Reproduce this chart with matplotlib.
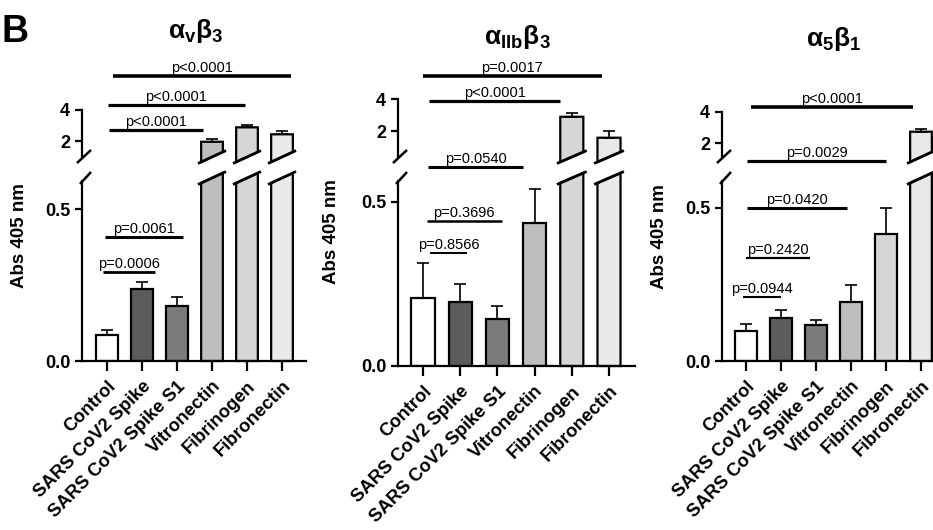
import numpy as np
import matplotlib.pyplot as plt
from matplotlib.patches import Polygon
from matplotlib.lines import Line2D

plt.rcParams['font.family'] = ['Liberation Sans', 'DejaVu Sans']
plt.rcParams['mathtext.fontset'] = 'custom'
plt.rcParams['mathtext.bf'] = 'Liberation Sans:bold'
plt.rcParams['mathtext.rm'] = 'Liberation Sans'
plt.rcParams['mathtext.it'] = 'Liberation Sans:italic'

categories = ['Control', 'SARS CoV2 Spike', 'SARS CoV2 Spike S1',
              'Vitronectin', 'Fibrinogen', 'Fibronectin']
bar_colors = ['white', '#5c5c5c', '#7b7b7b', '#bebebe', '#d6d6d6', '#e9e9e9']

titles = [r'$\mathbf{\alpha_v\beta_3}$', r'$\mathbf{\alpha_{IIb}\beta_3}$',
          r'$\mathbf{\alpha_5\beta_1}$']

avb3_mean = [0.085, 0.236, 0.180, 1.95, 2.88, 2.43]
avb3_sem = [0.017, 0.024, 0.030, 0.18, 0.13, 0.22]
aiibb3_mean = [0.207, 0.195, 0.143, 0.436, 2.89, 1.58]
aiibb3_sem = [0.107, 0.055, 0.040, 0.104, 0.25, 0.40]
a5b1_mean = [0.098, 0.141, 0.118, 0.193, 0.415, 2.73]
a5b1_sem = [0.023, 0.026, 0.016, 0.055, 0.085, 0.15]

# p-value lines: label, x from / to (category units), height, on upper segment?
avb3_sig_labels = ['p=0.0006', 'p=0.0061', 'p<0.0001', 'p<0.0001', 'p<0.0001']
avb3_sig_x0 = [-0.11, -0.06, 0.06, 0.03, 0.17]
avb3_sig_x1 = [1.37, 2.17, 2.74, 3.94, 5.26]
avb3_sig_y = [0.293, 0.408, 2.71, 4.32, 6.19]
avb3_sig_upper = [False, False, True, True, True]

aiibb3_sig_labels = ['p=0.8566', 'p=0.3696', 'p=0.0540', 'p<0.0001', 'p=0.0017']
aiibb3_sig_x0 = [0.19, 0.10, 0.14, 0.17, 0.0]
aiibb3_sig_x1 = [1.18, 2.12, 2.70, 3.68, 4.80]
aiibb3_sig_y = [0.345, 0.442, 0.607, 3.875, 5.44]
aiibb3_sig_upper = [False, False, False, True, True]

a5b1_sig_labels = ['p=0.0944', 'p=0.2420', 'p=0.0420', 'p=0.0029', 'p<0.0001']
a5b1_sig_x0 = [-0.09, 0.0, 0.03, 0.03, 0.14]
a5b1_sig_x1 = [1.00, 1.83, 2.89, 4.00, 4.77]
a5b1_sig_y = [0.209, 0.337, 0.50, 0.84, 4.32]
a5b1_sig_upper = [False, False, False, True, True]

panels = [
    (avb3_mean, avb3_sem, avb3_sig_labels, avb3_sig_x0, avb3_sig_x1, avb3_sig_y, avb3_sig_upper),
    (aiibb3_mean, aiibb3_sem, aiibb3_sig_labels, aiibb3_sig_x0, aiibb3_sig_x1, aiibb3_sig_y, aiibb3_sig_upper),
    (a5b1_mean, a5b1_sem, a5b1_sig_labels, a5b1_sig_x0, a5b1_sig_x1, a5b1_sig_y, a5b1_sig_upper),
]

# layout in pixels
W, H = 933, 530
geom = [dict(x0=82, x1=306, zero=361, half=209, two=141, four=110, first=107, step=35.0),
        dict(x0=398, x1=635, zero=366, half=202, two=131, four=99, first=423, step=37.2),
        dict(x0=722, x1=933, zero=361, half=208, two=143, four=112, first=746, step=35.0)]
sig_lw = [[2.0, 2.2, 2.3, 2.3, 2.6],
          [1.4, 1.8, 2.2, 2.3, 2.6],
          [1.5, 1.6, 2.2, 2.3, 2.6]]
title_pos = [(196, 38), (517, 44), (834, 46)]
ylabel_pos = [(20, 236), (332, 232), (660, 237)]
low_top = 173
up_bot = 162
bar_w = 0.62
slant_px = 10.0
lw = 1.6

fig = plt.figure(figsize=(W / 100, H / 100), dpi=100)


def fig_line(p0, p1):
    fig.add_artist(Line2D([p0[0] / W, p1[0] / W], [1 - p0[1] / H, 1 - p1[1] / H],
                          transform=fig.transFigure, color='k', lw=1.8,
                          solid_capstyle='butt'))


for i, (mean, sem, labels, sx0, sx1, sy, sup) in enumerate(panels):
    g = geom[i]
    k = (g['zero'] - g['half']) / 0.5
    ku = (g['two'] - g['four']) / 2.0
    low_ymax = (g['zero'] - low_top) / k
    up_ymin = 2 - (up_bot - g['two']) / ku
    xlim = ((g['x0'] - g['first']) / g['step'], (g['x1'] - g['first']) / g['step'])

    ax_low = fig.add_axes([g['x0'] / W, 1 - g['zero'] / H,
                           (g['x1'] - g['x0']) / W, (g['zero'] - low_top) / H])
    ax_up = fig.add_axes([g['x0'] / W, 1 - up_bot / H,
                          (g['x1'] - g['x0']) / W, (up_bot - g['four']) / H])
    for ax in (ax_low, ax_up):
        ax.set_xlim(*xlim)
        ax.patch.set_alpha(0)
        ax.spines['top'].set_visible(False)
        ax.spines['right'].set_visible(False)
        ax.spines['left'].set_linewidth(lw)
        ax.spines['bottom'].set_linewidth(lw)
        ax.tick_params(width=lw, length=5, labelsize=13)
    ax_low.set_ylim(0, low_ymax)
    ax_up.set_ylim(up_ymin, 4)
    ax_up.spines['bottom'].set_visible(False)
    ax_up.set_xticks([])
    ax_low.spines['left'].set_bounds(0, (g['zero'] - 181) / k)
    ax_up.spines['left'].set_bounds(2 - (157 - g['two']) / ku, 4)

    ax_low.set_yticks([0, 0.5])
    ax_low.set_yticklabels(['0.0', '0.5'], fontweight='bold')
    ax_up.set_yticks([2, 4])
    ax_up.set_yticklabels(['2', '4'], fontweight='bold')

    x = np.arange(len(categories))
    ax_low.set_xticks(x)
    ax_low.set_xticklabels(categories, rotation=45, ha='right', va='top',
                           rotation_mode='anchor', fontweight='bold', fontsize=13.2)
    ax_low.tick_params(axis='x', length=7, pad=5)

    # slant of the cut, in each segment's data units
    slope = slant_px / (bar_w * g['step'])
    ext = 0.09
    s_low = slant_px / k
    s_up = slant_px / ku
    e_low = ext * g['step'] * slope / k
    e_up = ext * g['step'] * slope / ku

    for j, m in enumerate(mean):
        xl, xr = x[j] - bar_w / 2, x[j] + bar_w / 2
        if m <= low_ymax:
            ax_low.bar(x[j], m, bar_w, color=bar_colors[j], edgecolor='k',
                       linewidth=lw, zorder=2)
            ax_low.errorbar(x[j], m, yerr=[[0], [sem[j]]], fmt='none', ecolor='k',
                            elinewidth=1.2, capsize=4, capthick=1.2, zorder=3,
                            clip_on=False)
        else:
            ax_low.add_patch(Polygon([(xl, 0), (xr, 0), (xr, low_ymax),
                                      (xl, low_ymax - s_low)], closed=True,
                                     facecolor=bar_colors[j], edgecolor='k',
                                     linewidth=lw, clip_on=False, zorder=2))
            ax_low.plot([xl - ext, xr + ext], [low_ymax - s_low - e_low, low_ymax + e_low],
                        color='k', lw=2.0, clip_on=False, zorder=3,
                        solid_capstyle='butt')
            ax_up.add_patch(Polygon([(xl, up_ymin), (xr, up_ymin + s_up), (xr, m),
                                     (xl, m)], closed=True, facecolor=bar_colors[j],
                                    edgecolor='k', linewidth=lw, clip_on=False,
                                    zorder=2))
            ax_up.plot([xl - ext, xr + ext], [up_ymin - e_up, up_ymin + s_up + e_up],
                       color='k', lw=2.0, clip_on=False, zorder=3,
                       solid_capstyle='butt')
            ax_up.errorbar(x[j], m, yerr=[[0], [sem[j]]], fmt='none', ecolor='k',
                           elinewidth=1.2, capsize=4, capthick=1.2, zorder=3,
                           clip_on=False)

    for j, lab in enumerate(labels):
        ax = ax_up if sup[j] else ax_low
        ax.plot([sx0[j], sx1[j]], [sy[j], sy[j]], color='k', lw=sig_lw[i][j],
                clip_on=False, solid_capstyle='butt')
        ax.annotate(lab, xy=((sx0[j] + sx1[j]) / 2, sy[j]), xytext=(0, 3),
                    textcoords='offset points', ha='center', va='baseline',
                    fontsize=10.5, annotation_clip=False)

    # axis break marks on the y spine
    fig_line((g['x0'] - 2, 184), (g['x0'] + 9, 172))
    fig_line((g['x0'] - 5, 163), (g['x0'] + 9, 150))

    fig.text(title_pos[i][0] / W, 1 - title_pos[i][1] / H, titles[i],
             ha='center', va='baseline', fontsize=19)
    fig.text(ylabel_pos[i][0] / W, 1 - ylabel_pos[i][1] / H, 'Abs 405 nm',
             rotation=90, ha='center', va='center', fontsize=13.5,
             fontweight='bold')

fig.text(2 / W, 1 - 42 / H, 'B', fontsize=27, fontweight='bold',
         ha='left', va='baseline')

fig.savefig('out.png', dpi=100)
